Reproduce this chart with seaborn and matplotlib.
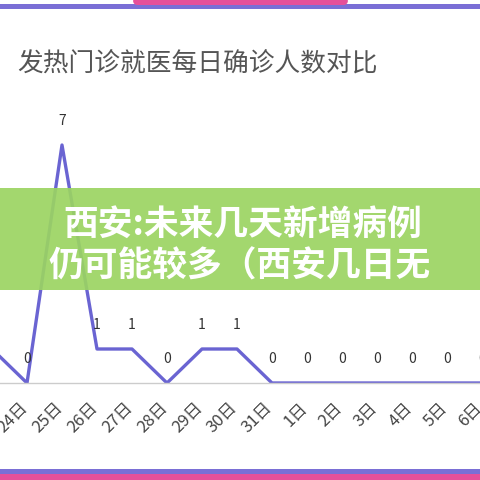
import matplotlib
matplotlib.use("Agg")
import matplotlib.pyplot as plt
from matplotlib.patches import Rectangle, FancyBboxPatch
from matplotlib.transforms import ScaledTranslation
import pandas as pd
import seaborn as sns

# daily confirmed cases from fever clinics
days = ['23日', '24日', '25日', '26日', '27日', '28日', '29日', '30日',
        '31日', '1日', '2日', '3日', '4日', '5日', '6日']
cases = [1, 0, 7, 1, 1, 0, 1, 1, 0, 0, 0, 0, 0, 0, 0]

title = '发热门诊就医每日确诊人数对比'
banner_lines = ['西安:未来几天新增病例', '仍可能较多（西安几日无']

df = pd.DataFrame({'day': days, 'cases': cases})

sns.set_style('white')
plt.rcParams['font.family'] = ['Noto Sans CJK SC', 'DejaVu Sans']

fig = plt.figure(figsize=(4.8, 4.8), dpi=100)
# axes run past the right edge: the picture is a crop of a wider chart
ax = fig.add_axes([0, 97 / 480, 1.1, 282 / 480])

sns.lineplot(data=df, x='day', y='cases', sort=False, color='#6a64d2',
             linewidth=2.4, ax=ax)

# value labels above each point
for i, v in enumerate(cases):
    ax.annotate(str(v), (i, v), xytext=(0, 17.5), textcoords='offset points',
                ha='center', va='center', fontsize=10, color='#333333',
                annotation_clip=False, clip_on=True)

ax.set_xlabel('')
ax.set_ylabel('')
ax.set_yticks([])
ax.set_xticks(range(len(days)))
ax.set_xticklabels(days, rotation=45, ha='right', fontsize=12, color='#444444')
ax.tick_params(axis='x', length=0, pad=12)
# nudge the rotated labels so their ends sit under the points
shift = ScaledTranslation(4 / 100, 0, fig.dpi_scale_trans)
for lbl in ax.get_xticklabels():
    lbl.set_transform(lbl.get_transform() + shift)
ax.set_xlim(0.2286, 0.2286 + 528 / 35)
ax.set_ylim(0, 282 / 34)
for side in ['top', 'left', 'right']:
    ax.spines[side].set_visible(False)
ax.spines['bottom'].set_color('#cccccc')
ax.spines['bottom'].set_linewidth(1)
ax.set_facecolor('none')

fig.text(17 / 480, 1 - 65 / 480, title, fontsize=18.5, color='#555555',
         ha='left', va='center')

# green banner overlay
fig.patches.append(Rectangle((0, 190 / 480), 1, 102 / 480, transform=fig.transFigure,
                             facecolor='#9bd462', alpha=0.92, edgecolor='none', zorder=5))
fig.text(0.505, 1 - 224 / 480, banner_lines[0], fontsize=25, color='white',
         weight='bold', ha='center', va='center', zorder=6)
fig.text(0.5, 1 - 266 / 480, banner_lines[1], fontsize=25, color='white',
         weight='bold', ha='center', va='center', zorder=6)

# frame decorations at top and bottom
fig.patches.append(Rectangle((0, 1 - 9 / 480), 1, 5 / 480, transform=fig.transFigure,
                             facecolor='#7a6fd6', edgecolor='none', zorder=5))
fig.patches.append(FancyBboxPatch((133 / 480, 1 - 5 / 480), 215 / 480, 8 / 480,
                                  boxstyle='round,pad=0,rounding_size=0.01',
                                  transform=fig.transFigure, facecolor='#e6509a',
                                  edgecolor='none', zorder=6))
fig.patches.append(Rectangle((0, 6 / 480), 1, 5 / 480, transform=fig.transFigure,
                             facecolor='#7a6fd6', edgecolor='none', zorder=5))
fig.patches.append(Rectangle((0, 0), 1, 6 / 480, transform=fig.transFigure,
                             facecolor='#e6509a', edgecolor='none', zorder=5))

fig.savefig('out.png', dpi=100)
